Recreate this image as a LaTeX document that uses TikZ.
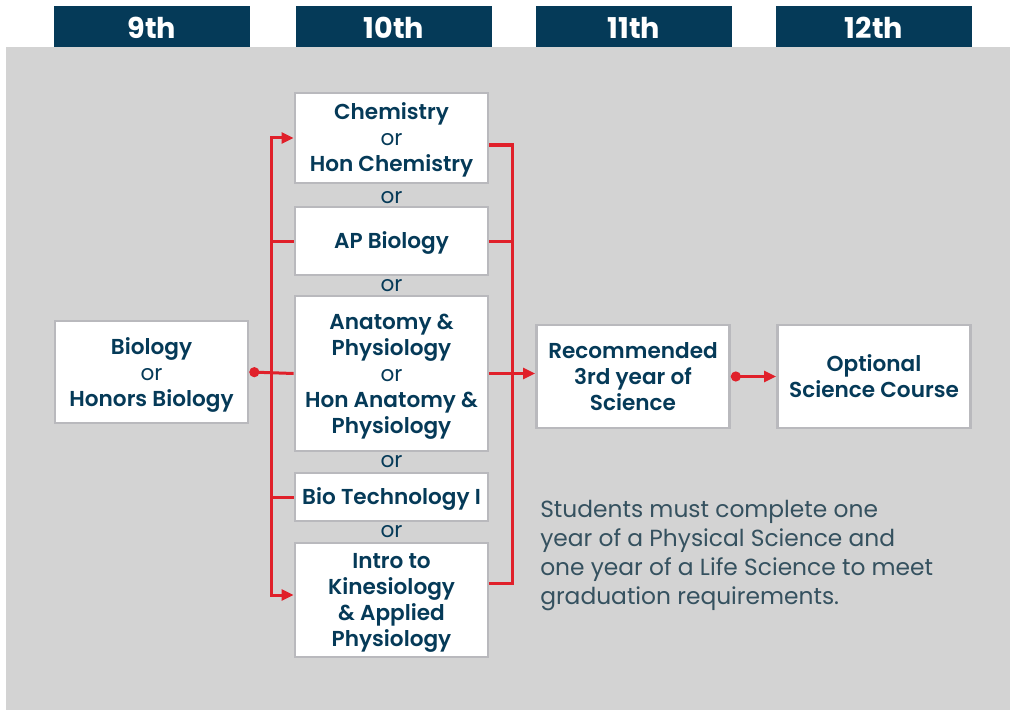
\documentclass[tikz,border=0pt]{standalone}
\usepackage{fontspec}
\setmainfont{Poppins}[BoldFont=* SemiBold]
\newfontfamily\headfont{Poppins}[UprightFont=* Bold]
\usepackage{tikz}
\usetikzlibrary{arrows.meta}

\definecolor{navy}{HTML}{053A58}
\definecolor{bggray}{HTML}{D3D3D3}
\definecolor{boxgray}{HTML}{B9B9BD}
\definecolor{flowred}{HTML}{E0202A}
\definecolor{notegray}{HTML}{35515F}

\tikzset{
    yearhead/.style={fill=navy, text=white, minimum width=147pt, minimum height=30.75pt,
        inner sep=0pt, text height=17.5pt, text depth=0pt, font=\fontsize{21.5}{24}\headfont},
    course/.style={draw=boxgray, line width=2pt, fill=white, text=navy, align=center,
        minimum width=144.75pt, inner sep=2pt, font=\fontsize{16.2}{19.5}\selectfont\bfseries,
        execute at begin node={\rule{0pt}{15pt}}},
    ortext/.style={text=navy, font=\fontsize{16.2}{19.5}\selectfont},
    flow/.style={draw=flowred, line width=2.25pt},
}

\newcommand{\orword}{{\mdseries or}}

\begin{document}
\begin{tikzpicture}[x=0.75pt, y=-0.75pt]
    \useasboundingbox (0,0) rectangle (1011,710);
    \fill [bggray] (6,47) rectangle (1010,710);
    % year headers
    \node [yearhead] (h9) at (152,26.5) {9th};
    \node [yearhead] (h10) at (394,26.5) {10th};
    \node [yearhead] (h11) at (634,26.5) {11th};
    \node [yearhead] (h12) at (874,26.5) {12th};
    % courses
    \node [course, minimum height=76.5pt, text depth=0pt] (bio) at (151.5,372) {Biology\\\orword\\Honors Biology};
    \node [course, minimum height=67.5pt, text depth=1.4pt] (chem) at (391.5,138) {Chemistry\\\orword\\Hon Chemistry};
    \node [course, minimum height=51pt] (apbio) at (391.5,241) {AP Biology};
    \node [course, minimum height=116.25pt, text depth=-1pt] (anat) at (391.5,373.5) {Anatomy \&\\Physiology\\\orword\\Hon Anatomy \&\\Physiology};
    \node [course, minimum height=36pt] (biotech) at (391.5,497) {Bio Technology I};
    \node [course, minimum height=85.5pt, text depth=-5.5pt] (kines) at (391.5,600) {Intro to\\Kinesiology\\\& Applied\\Physiology};
    \node [course, minimum height=77.25pt, text depth=-1pt] (third) at (633,376.5) {Recommended\\3rd year of\\Science};
    \node [course, minimum height=77.25pt, text depth=-1pt] (optional) at (874,376.5) {Optional\\Science Course};
    % or between the 10th grade courses
    \node [ortext] (or1) at (391.5,198) {or};
    \node [ortext] (or2) at (391.5,286) {or};
    \node [ortext] (or3) at (391.5,462) {or};
    \node [ortext] (or4) at (391.5,532) {or};
    % connectors
    \coordinate (busL) at (271,0);
    \coordinate (busR) at (512,0);
    \draw [flow, {Circle[length=7.5pt]}-] (bio.east) -- (anat.west);
    \draw [flow, -{Triangle[length=9pt,width=8pt]}] (busL |- anat.west) |- (chem.west);
    \draw [flow, -{Triangle[length=9pt,width=8pt]}] (busL |- anat.west) |- ([yshift=3.75pt]kines.west);
    \draw [flow] (busL |- apbio.west) -- (apbio.west);
    \draw [flow] (busL |- biotech.west) -- (biotech.west);
    \draw [flow] ([yshift=-5.25pt]chem.east) -| (busR |- anat.east);
    \draw [flow] ([yshift=12.75pt]kines.east) -| (busR |- anat.east);
    \draw [flow] (apbio.east) -- (busR |- apbio.east);
    \draw [flow, -{Triangle[length=9pt,width=8pt]}] (anat.east) -- (anat.east -| third.west);
    \draw [flow, {Circle[length=7.5pt]}-{Triangle[length=9pt,width=8pt]}] (third.east) -- (optional.west);
    % note
    \node [anchor=north west, align=left, text=notegray, inner sep=0pt,
        font=\fontsize{17.5}{21.75}\selectfont] (note) at (540,500)
        {Students must complete one\\year of a Physical Science and\\one year of a Life Science to meet\\graduation requirements.};
\end{tikzpicture}
\end{document}
